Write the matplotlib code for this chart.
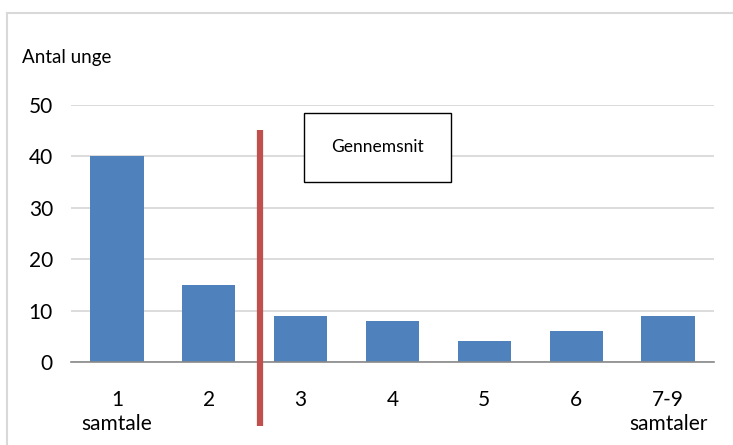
import matplotlib.pyplot as plt
from matplotlib.lines import Line2D
from matplotlib.patches import Rectangle

plt.rcParams['font.family'] = ['Lato', 'DejaVu Sans']

# antal samtaler pr. ung
kategorier = ['1\nsamtale', '2', '3', '4', '5', '6', '7-9\nsamtaler']
antal_unge = [40, 15, 9, 8, 4, 6, 9]
gennemsnit = 2.56   # placering af gennemsnitslinjen paa kategoriaksen
yticks = [0, 10, 20, 30, 40, 50]

W, H = 733, 445
fig = plt.figure(figsize=(W / 100, H / 100), dpi=100)
ax = fig.add_axes([71 / W, 1 - 362 / H, (714 - 71) / W, (362 - 105) / H])

x = list(range(len(kategorier)))
ax.bar(x, antal_unge, width=0.58, color='#4F81BD', zorder=2)
ax.set_xlim(-0.5, len(kategorier) - 0.5)
ax.set_ylim(0, 50)
ax.set_yticks(yticks)
ax.set_xticks(x)
ax.set_xticklabels(kategorier, fontsize=15, linespacing=1.25)
ax.tick_params(axis='y', labelsize=15, length=0, pad=13)
ax.tick_params(axis='x', length=0, pad=20)
ax.grid(axis='y', color='#D9D9D9', linewidth=1.3, zorder=0)
for s in ['top', 'right', 'left']:
    ax.spines[s].set_visible(False)
ax.spines['bottom'].set_color('#898989')
ax.spines['bottom'].set_linewidth(1.2)
ax.spines['bottom'].set_zorder(3)

# gennemsnitslinje, gaar ned under aksen
ax.plot([gennemsnit - 1, gennemsnit - 1], [-12.4, 45.1], color='#C0504D',
        linewidth=4.5, solid_capstyle='butt', clip_on=False, zorder=4)

# tekstboks
ax.add_patch(Rectangle((2.035, 35.0), 1.6, 13.4, facecolor='white',
                       edgecolor='black', linewidth=1.0, zorder=5))
ax.text(2.835, 41.9, 'Gennemsnit', ha='center', va='center', fontsize=12.5, zorder=6)

fig.text(22 / W, 1 - 58 / H, 'Antal unge', ha='left', va='center', fontsize=13.5)

# ramme om diagrammet
fig.add_artist(Line2D([7 / W, 1], [1 - 13 / H, 1 - 13 / H], color='#D9D9D9', linewidth=1.5))
fig.add_artist(Line2D([7 / W, 7 / W], [0, 1 - 13 / H], color='#D9D9D9', linewidth=1.5))

fig.savefig('out.png', dpi=100)
